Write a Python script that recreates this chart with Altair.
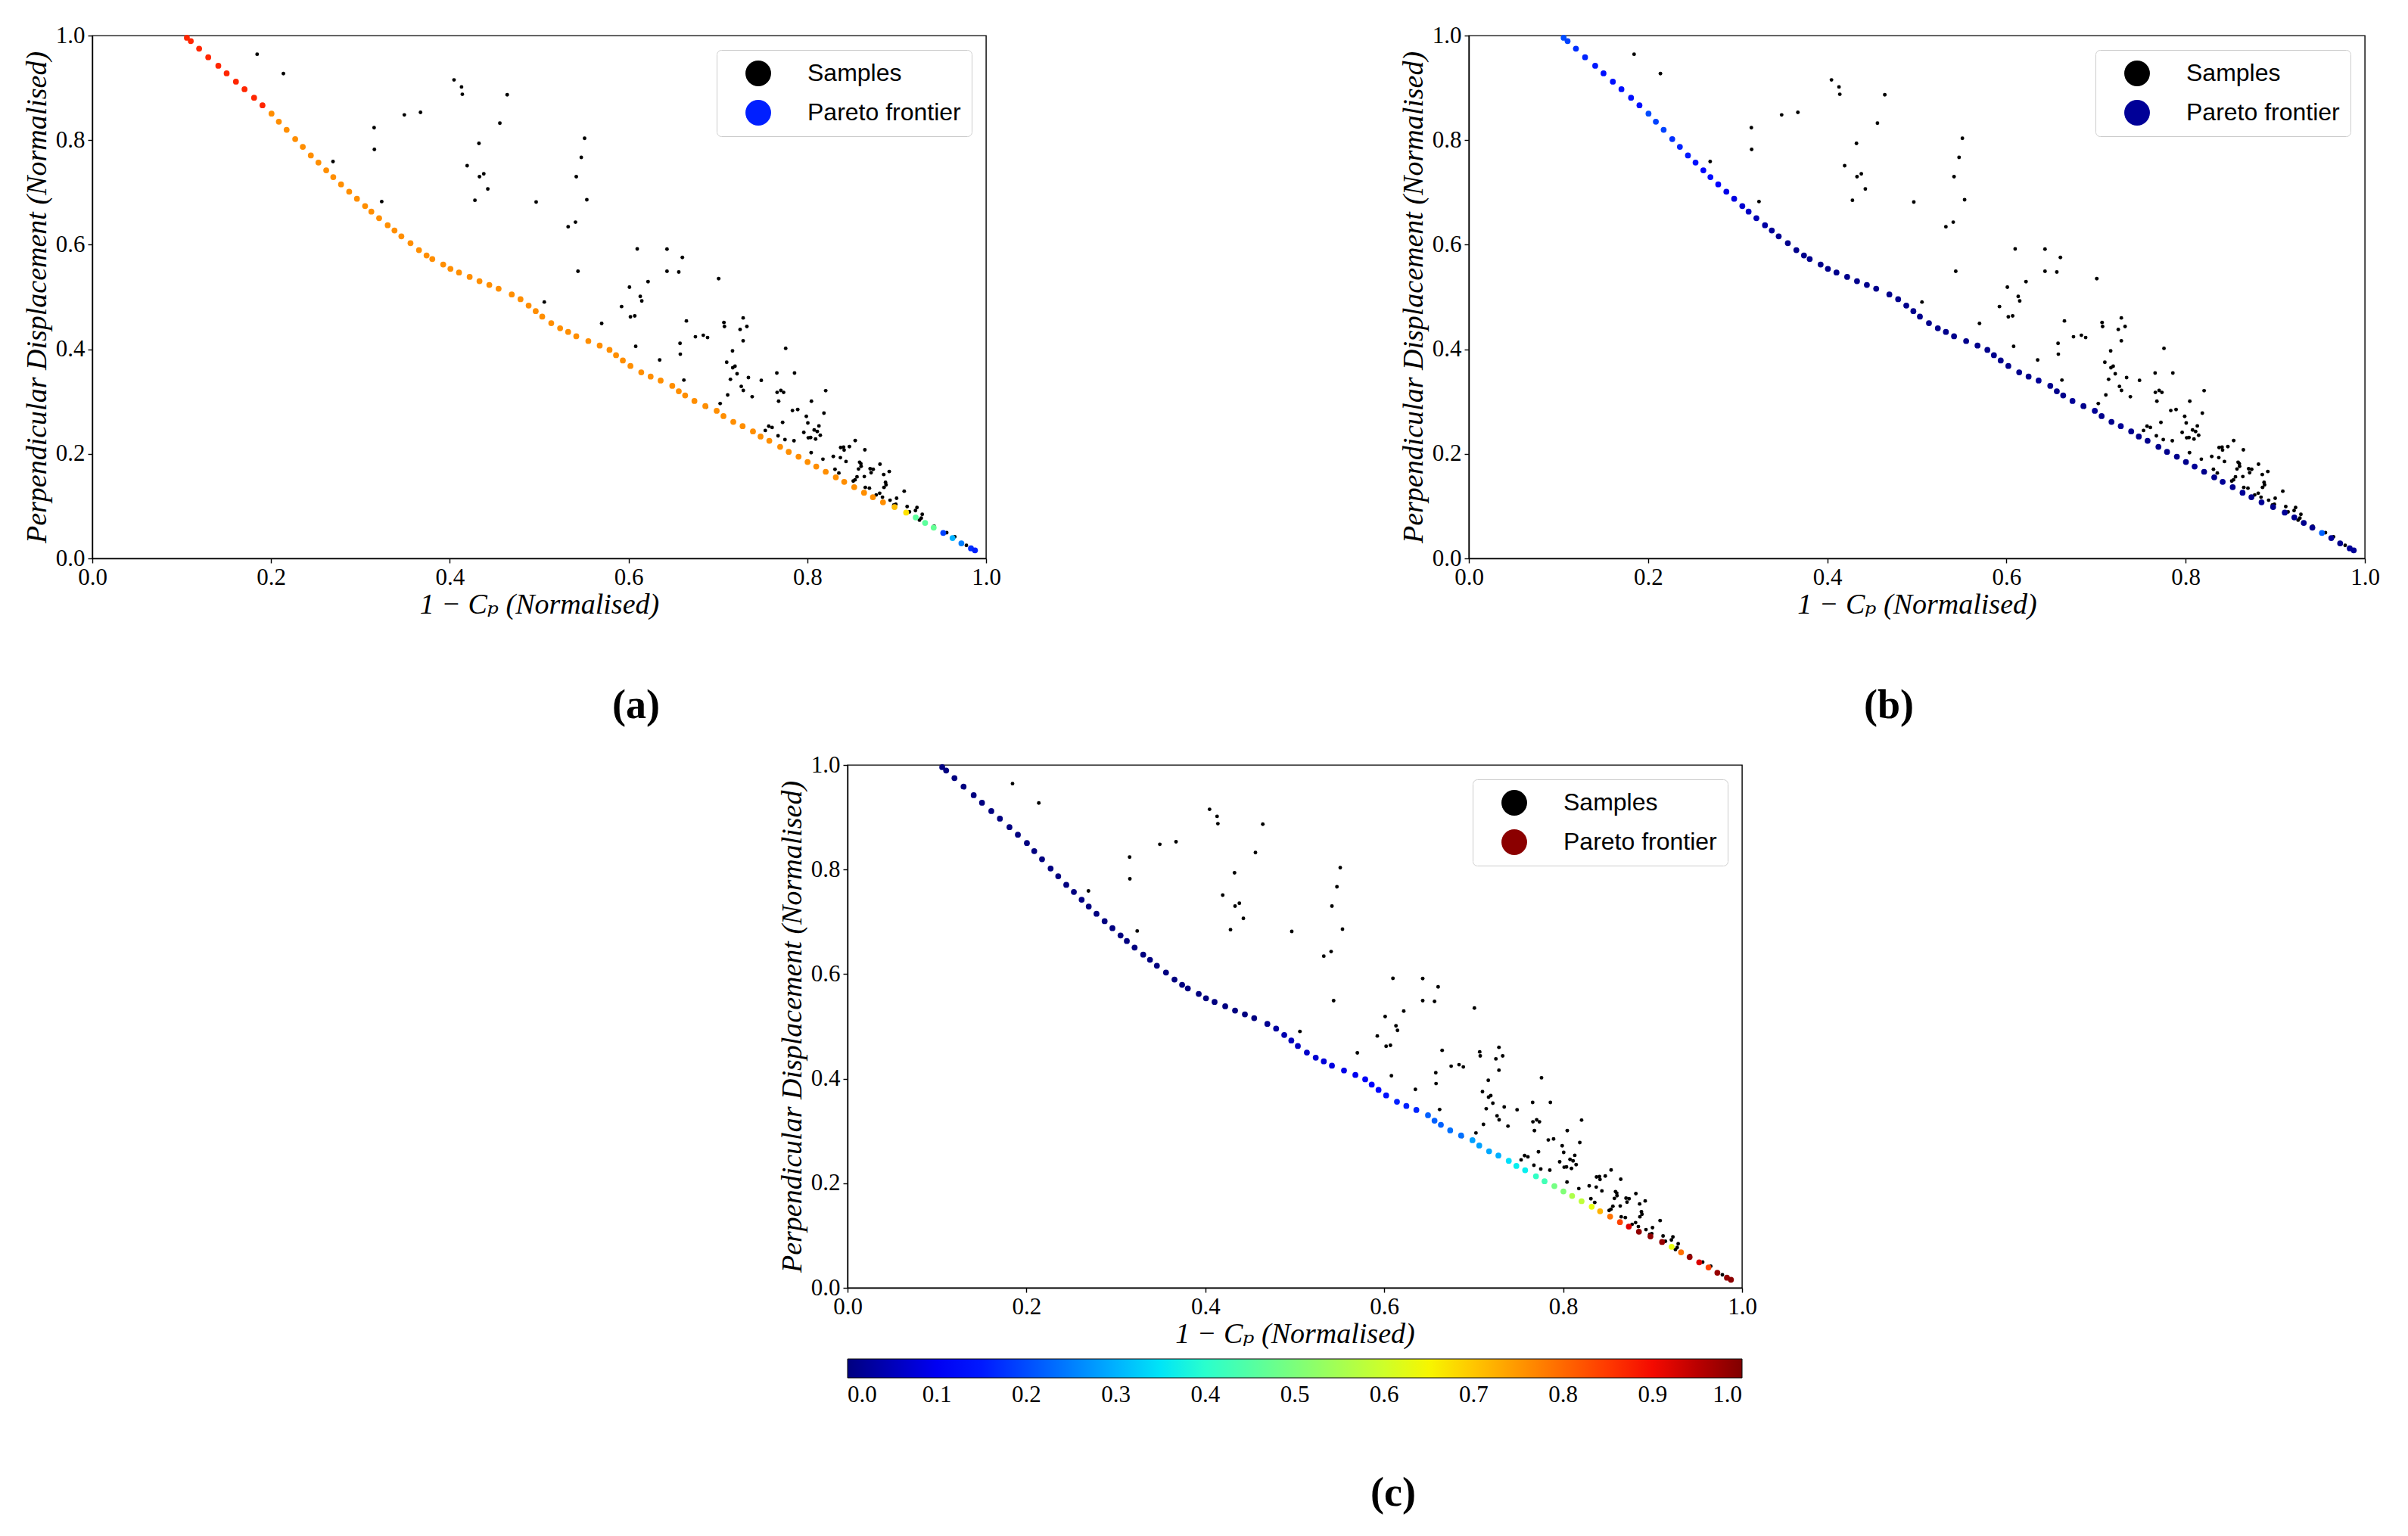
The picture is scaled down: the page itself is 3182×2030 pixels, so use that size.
import altair as alt
import numpy as np
import pandas as pd

# ---- Pareto frontier (shared by the three panels) ----
front_x = [0.1058, 0.1102, 0.1195, 0.1297, 0.1410, 0.1503, 0.1607, 0.1703, 0.1810, 0.1904,
           0.2005, 0.2087, 0.2174, 0.2270, 0.2355, 0.2445, 0.2530, 0.2617, 0.2696, 0.2783,
           0.2874, 0.2961, 0.3052, 0.3122, 0.3209, 0.3305, 0.3381, 0.3458, 0.3560, 0.3655,
           0.3740, 0.3804, 0.3926, 0.4007, 0.4103, 0.4222, 0.4332, 0.4442, 0.4546, 0.4693,
           0.4791, 0.4882, 0.4961, 0.5034, 0.5135, 0.5234, 0.5324, 0.5415, 0.5550, 0.5677,
           0.5787, 0.5860, 0.5936, 0.6021, 0.6142, 0.6247, 0.6359, 0.6489, 0.6562, 0.6633,
           0.6737, 0.6859, 0.6986, 0.7062, 0.7172, 0.7276, 0.7392, 0.7477, 0.7575, 0.7696,
           0.7792, 0.7902, 0.8003, 0.8100, 0.8206, 0.8319, 0.8413, 0.8525, 0.8635, 0.8734,
           0.8847, 0.8976, 0.9106, 0.9213, 0.9318, 0.9414, 0.9521, 0.9625, 0.9724, 0.9831,
           0.9876]
front_y = [0.9957, 0.9894, 0.9750, 0.9585, 0.9422, 0.9277, 0.9118, 0.8974, 0.8811, 0.8666,
           0.8507, 0.8353, 0.8198, 0.8020, 0.7872, 0.7707, 0.7572, 0.7423, 0.7293, 0.7153,
           0.7013, 0.6879, 0.6739, 0.6633, 0.6507, 0.6373, 0.6272, 0.6161, 0.6031, 0.5896,
           0.5795, 0.5727, 0.5621, 0.5539, 0.5467, 0.5385, 0.5303, 0.5231, 0.5159, 0.5048,
           0.4957, 0.4836, 0.4730, 0.4624, 0.4499, 0.4403, 0.4331, 0.4249, 0.4157, 0.4071,
           0.3988, 0.3887, 0.3786, 0.3680, 0.3559, 0.3478, 0.3401, 0.3300, 0.3198, 0.3117,
           0.3011, 0.2914, 0.2823, 0.2722, 0.2611, 0.2529, 0.2428, 0.2331, 0.2249, 0.2134,
           0.2037, 0.1946, 0.1845, 0.1758, 0.1657, 0.1551, 0.1464, 0.1363, 0.1257, 0.1171,
           0.1074, 0.0983, 0.0877, 0.0785, 0.0679, 0.0588, 0.0487, 0.0390, 0.0289, 0.0193,
           0.0154]

# colour value of every frontier point, one list per panel
shade_a = [0.87, 0.87, 0.87, 0.87, 0.87, 0.87, 0.87, 0.87, 0.87, 0.87,
           0.76, 0.76, 0.76, 0.76, 0.76, 0.76, 0.76, 0.76, 0.76, 0.76,
           0.76, 0.76, 0.76, 0.76, 0.76, 0.76, 0.76, 0.76, 0.76, 0.76,
           0.76, 0.76, 0.76, 0.76, 0.76, 0.76, 0.76, 0.76, 0.76, 0.76,
           0.76, 0.76, 0.76, 0.76, 0.76, 0.76, 0.76, 0.76, 0.76, 0.76,
           0.76, 0.76, 0.76, 0.76, 0.76, 0.76, 0.76, 0.76, 0.76, 0.76,
           0.76, 0.76, 0.76, 0.76, 0.76, 0.76, 0.76, 0.76, 0.76, 0.76,
           0.76, 0.76, 0.76, 0.76, 0.76, 0.76, 0.76, 0.76, 0.76, 0.76,
           0.76, 0.71, 0.67, 0.46, 0.46, 0.47, 0.19, 0.30, 0.25, 0.17,
           0.155]
shade_b = [0.20, 0.19, 0.17, 0.16, 0.15, 0.14, 0.14, 0.14, 0.14, 0.14,
           0.20, 0.19, 0.19, 0.17, 0.16, 0.15, 0.14, 0.13, 0.14, 0.12,
           0.09, 0.085, 0.07, 0.06, 0.045, 0.03, 0.02, 0.015, 0.01, 0.01,
           0.01, 0.01, 0.01, 0.01, 0.01, 0.01, 0.01, 0.01, 0.01, 0.01,
           0.01, 0.01, 0.01, 0.01, 0.01, 0.01, 0.01, 0.01, 0.01, 0.01,
           0.01, 0.01, 0.01, 0.01, 0.01, 0.01, 0.02, 0.01, 0.01, 0.01,
           0.02, 0.01, 0.02, 0.01, 0.01, 0.02, 0.01, 0.01, 0.01, 0.01,
           0.01, 0.01, 0.01, 0.02, 0.01, 0.01, 0.02, 0.01, 0.02, 0.01,
           0.02, 0.01, 0.02, 0.01, 0.01, 0.01, 0.22, 0.02, 0.01, 0.02,
           0.02]
shade_c = [0.0, 0.0, 0.0, 0.0, 0.0, 0.0, 0.0, 0.0, 0.0, 0.0,
           0.0, 0.0, 0.0, 0.0, 0.0, 0.0, 0.0, 0.0, 0.0, 0.0,
           0.0, 0.0, 0.0, 0.0, 0.0, 0.0, 0.0, 0.0, 0.0, 0.0,
           0.0, 0.0, 0.0, 0.0, 0.0, 0.0, 0.0, 0.0, 0.0, 0.014,
           0.028, 0.042, 0.05, 0.056, 0.063, 0.07, 0.077, 0.083, 0.09, 0.097,
           0.104, 0.115, 0.13, 0.14, 0.156, 0.156, 0.16, 0.219, 0.219, 0.22,
           0.235, 0.235, 0.282, 0.282, 0.29, 0.297, 0.345, 0.36, 0.36, 0.41,
           0.43, 0.49, 0.505, 0.56, 0.58, 0.63, 0.72, 0.79, 0.84, 0.917,
           0.986, 0.986, 0.98, 0.63, 0.79, 0.98, 0.92, 0.84, 0.98, 0.98,
           0.99]

# ---- sampled designs ----
sample_x = [0.1844, 0.2138, 0.4047, 0.4131, 0.4140, 0.3491, 0.3672, 0.3153, 0.3156, 0.2693,
            0.4194, 0.3238, 0.4281, 0.4642, 0.4560, 0.4326, 0.4332, 0.4380, 0.4425, 0.4966,
            0.5508, 0.5471, 0.5415, 0.5533, 0.5324, 0.5406, 0.5434, 0.5057, 0.5699, 0.6097,
            0.6430, 0.6602, 0.6430, 0.6562, 0.6218, 0.6010, 0.6131, 0.6148, 0.5922, 0.6021,
            0.6069, 0.6647, 0.7008, 0.7067, 0.7073, 0.7282, 0.7324, 0.7248, 0.7282, 0.6748,
            0.6836, 0.6884, 0.6576, 0.6579, 0.6080, 0.6348, 0.7163, 0.7098, 0.7191, 0.7166,
            0.7214, 0.7140, 0.7341, 0.7485, 0.7261, 0.7284, 0.7383, 0.6619, 0.7109, 0.7025,
            0.6870, 0.7530, 0.7569, 0.7606, 0.7758, 0.7659, 0.7857, 0.7662, 0.7704, 0.7735,
            0.7679, 0.8206, 0.8046, 0.7834, 0.7893, 0.7989, 0.8006, 0.8186, 0.7961, 0.8077,
            0.8111, 0.8130, 0.8145, 0.8011, 0.8037, 0.8093, 0.7724, 0.7673, 0.7750, 0.7851,
            0.8043, 0.8175, 0.8291, 0.8370, 0.8373, 0.8406, 0.8412, 0.8471, 0.8536, 0.8644,
            0.8433, 0.8310, 0.8353, 0.8585, 0.8599, 0.8602, 0.8573, 0.8638, 0.8556, 0.8534,
            0.8514, 0.8703, 0.8714, 0.8737, 0.8813, 0.8917, 0.8855, 0.8875, 0.8881, 0.8858,
            0.8649, 0.8695, 0.8810, 0.8771, 0.8841, 0.8926, 0.8999, 0.9084, 0.8968, 0.8990,
            0.9117, 0.9227, 0.9210, 0.9286, 0.9275, 0.9255, 0.9143, 0.9419, 0.9560, 0.9650,
            0.9780]
sample_y = [0.9643, 0.9273, 0.9152, 0.9017, 0.8877, 0.8483, 0.8531, 0.8237, 0.7823, 0.7591,
            0.7510, 0.6825, 0.6850, 0.8868, 0.8324, 0.7938, 0.7302, 0.7355, 0.7066, 0.6816,
            0.8035, 0.7669, 0.7302, 0.6859, 0.6344, 0.6431, 0.5491, 0.4904, 0.4494, 0.5920,
            0.5915, 0.5756, 0.5491, 0.5477, 0.5294, 0.5188, 0.5010, 0.4923, 0.4817, 0.4620,
            0.4639, 0.4542, 0.5351, 0.4513, 0.4436, 0.4600, 0.4436, 0.4379, 0.4162, 0.4239,
            0.4268, 0.4224, 0.4114, 0.3906, 0.4056, 0.3796, 0.3969, 0.3752, 0.3675, 0.3646,
            0.3531, 0.3425, 0.3458, 0.3406, 0.3290, 0.3213, 0.3092, 0.3410, 0.3126, 0.2962,
            0.2894, 0.2447, 0.2529, 0.2505, 0.4017, 0.3545, 0.3545, 0.3175, 0.3213, 0.3175,
            0.3006, 0.3208, 0.3006, 0.2828, 0.2847, 0.2717, 0.2591, 0.2779, 0.2409, 0.2457,
            0.2428, 0.2534, 0.2355, 0.2307, 0.2312, 0.2283, 0.2601, 0.2345, 0.2273, 0.2250,
            0.2023, 0.1898, 0.1951, 0.1927, 0.2120, 0.2129, 0.2072, 0.2139, 0.2254, 0.2076,
            0.1854, 0.1705, 0.1633, 0.1840, 0.1811, 0.1763, 0.1710, 0.1565, 0.1561, 0.1503,
            0.1479, 0.1715, 0.1638, 0.1705, 0.1802, 0.1662, 0.1604, 0.1455, 0.1407, 0.1358,
            0.1358, 0.1344, 0.1247, 0.1214, 0.1171, 0.1113, 0.1151, 0.1286, 0.1021, 0.1035,
            0.0992, 0.0973, 0.0915, 0.0843, 0.0771, 0.0732, 0.0891, 0.0617, 0.0491, 0.0414,
            0.0250]

tick_values = [0.0, 0.2, 0.4, 0.6, 0.8, 1.0]
bar_values = [0.0, 0.1, 0.2, 0.3, 0.4, 0.5, 0.6, 0.7, 0.8, 0.9, 1.0]
series_names = ["Samples", "Pareto frontier"]

# ---- jet colour map as a piecewise-linear scale ----
_red = ([0.0, 0.35, 0.66, 0.89, 1.0], [0.0, 0.0, 1.0, 1.0, 0.5])
_green = ([0.0, 0.125, 0.375, 0.64, 0.91, 1.0], [0.0, 0.0, 1.0, 1.0, 0.0, 0.0])
_blue = ([0.0, 0.11, 0.34, 0.65, 1.0], [0.5, 1.0, 1.0, 0.0, 0.0])


def jet_hex(t):
    r = np.interp(t, *_red)
    g = np.interp(t, *_green)
    b = np.interp(t, *_blue)
    return "#{:02x}{:02x}{:02x}".format(int(round(r * 255)), int(round(g * 255)), int(round(b * 255)))


jet_stops = [0.0, 0.11, 0.125, 0.34, 0.35, 0.375, 0.64, 0.65, 0.66, 0.89, 0.91, 1.0]
jet_scale = alt.Scale(domain=jet_stops, range=[jet_hex(t) for t in jet_stops], interpolate="rgb")

SERIF = "Liberation Serif, DejaVu Serif, serif"
SANS = "Liberation Sans, Arial, sans-serif"
KEY_SIZE = 1150

samples_df = pd.DataFrame({"x": sample_x, "y": sample_y})
key_df = pd.DataFrame({"series": series_names, "x": [-1.0, -1.0], "y": [-1.0, -1.0]})


def panel(shade, tag, width, tag_dx, with_bar):
    front_df = pd.DataFrame({"x": front_x, "y": front_y, "v": shade})
    x_enc = alt.X("x:Q", scale=alt.Scale(domain=[0, 1], nice=False, zero=False),
                  axis=alt.Axis(values=tick_values, format=".1f", title="1 − Cₚ (Normalised)"))
    y_enc = alt.Y("y:Q", scale=alt.Scale(domain=[0, 1], nice=False, zero=False),
                  axis=alt.Axis(values=tick_values, format=".1f",
                                title="Perpendicular Displacement (Normalised)"))
    key_legend = alt.Legend(orient="top-right", offset=19, title=None, symbolType="circle",
                            symbolSize=KEY_SIZE, symbolStrokeWidth=0, labelFont=SANS,
                            labelFontSize=32, labelColor="black", labelLimit=500,
                            fillColor="white", strokeColor="#cccccc", cornerRadius=6,
                            padding=14, rowPadding=18, symbolOffset=24, labelOffset=48)
    # legend-only layer: its rows are filtered out, only the key entries remain
    key = alt.Chart(key_df).transform_filter("datum.x >= 0").mark_circle(opacity=1).encode(
        x=x_enc, y=y_enc,
        color=alt.Color("series:N",
                        scale=alt.Scale(domain=series_names, range=["#000000", jet_hex(shade[-1])]),
                        legend=key_legend),
        size=alt.Size("series:N", scale=alt.Scale(domain=series_names, range=[KEY_SIZE, KEY_SIZE]),
                      legend=key_legend),
    )
    pts = alt.Chart(samples_df).mark_circle(size=24, opacity=1, color="black").encode(x=x_enc, y=y_enc)
    if with_bar:
        bar = alt.Legend(orient="none", legendX=0, legendY=785, direction="horizontal",
                         title=None, gradientLength=1182, gradientThickness=25,
                         gradientStrokeColor="black", gradientStrokeWidth=1,
                         values=bar_values, format=".1f", labelFont=SERIF, labelFontSize=31,
                         labelColor="black", labelOverlap=False, labelOffset=8)
        colour = alt.Color("v:Q", scale=jet_scale, legend=bar)
    else:
        colour = alt.Color("v:Q", scale=jet_scale, legend=None)
    pareto = alt.Chart(front_df).mark_circle(size=60, opacity=1).encode(x=x_enc, y=y_enc, color=colour)
    return alt.layer(key, pts, pareto).resolve_scale(color="independent", size="independent").properties(
        width=width, height=691,
        view=alt.ViewBackground(stroke="black", strokeWidth=1.4),
        title=alt.TitleParams(tag, orient="bottom", dx=tag_dx, offset=88, fontSize=54,
                              fontWeight="bold", font=SERIF, color="black"),
    )


pa = panel(shade_a, "(a)", 1181, 128, False)
pb = panel(shade_b, "(b)", 1184, -37, False)
pc = panel(shade_c, "(c)", 1182, 130, True)

spacer = alt.Chart(pd.DataFrame({"x": [0]})).mark_point(opacity=0).encode(x=alt.value(0)).properties(
    width=1, height=10, view=alt.ViewBackground(stroke="transparent"))

top_row = alt.hconcat(pa, pb, spacing=524)
bottom_row = alt.hconcat(spacer, pc, spacing=901)

chart = alt.vconcat(top_row, bottom_row, spacing=33).properties(
    padding={"left": 29, "top": 30, "right": 10, "bottom": 10},
    background="white",
).configure_axis(
    grid=False, domainColor="black", domainWidth=1.4, tickColor="black", tickWidth=1.4,
    tickSize=6, labelPadding=4, labelFlush=False, labelFont=SERIF, labelFontSize=31,
    labelColor="black", titleFont=SERIF, titleFontSize=38, titleFontStyle="italic",
    titleFontWeight="normal", titleColor="black", titlePadding=5,
).configure_axisX(titlePadding=2)

chart.save("out.html", embed_options={"renderer": "svg", "actions": False})
